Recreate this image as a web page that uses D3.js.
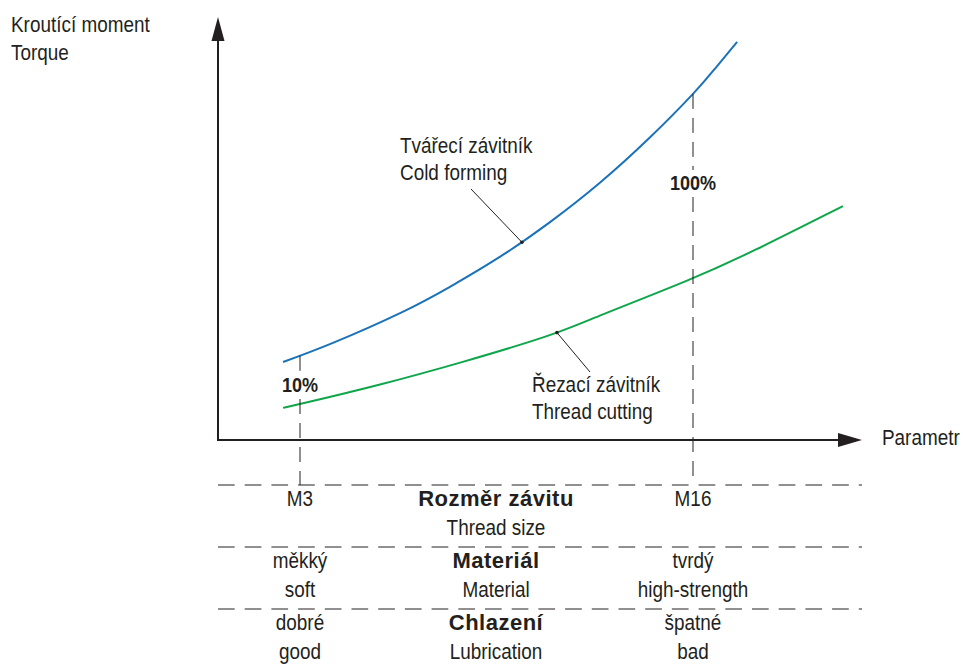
<!DOCTYPE html>
<html>
<head>
<meta charset="utf-8">
<script src="https://cdn.jsdelivr.net/npm/d3@7"></script>
<style>
  body { margin: 0; background: #fff; }
  text { font-family: "Liberation Sans", Arial, sans-serif; fill: #231f20; }
</style>
</head>
<body>
<div id="graph"></div>
<script>
// thread size (mm) vs torque (% of cold forming at M16)
const coldX = [2.44, 4.09, 6.31, 7.96, 9.62, 11.27, 12.92, 14.58, 16.0, 16.73, 17.46];
const coldY = [22.8, 28.4, 37.1, 44.8, 53.6, 63.7, 75.2, 88.5, 101.2, 108.6, 116.4];
const cutX = [2.44, 3.0, 5.65, 8.29, 11.5, 12.69, 16.0, 17.89, 20.96];
const cutY = [9.4, 10.5, 16.1, 22.5, 31.0, 35.7, 47.1, 54.7, 68.4];

const markX = [3, 16];
const markPct = ["10%", "100%"];

const rowTitles = ["Rozměr závitu", "Materiál", "Chlazení"];
const rowTitlesEn = ["Thread size", "Material", "Lubrication"];
const leftLabels = [["M3", ""], ["měkký", "soft"], ["dobré", "good"]];
const rightLabels = [["M16", ""], ["tvrdý", "high-strength"], ["špatné", "bad"]];

let svg = d3.select("#graph").append("svg")
  .attr("width", 963)
  .attr("height", 666);

let xScale = d3.scaleLinear().domain([3, 16]).range([300, 693]);
let yScale = d3.scaleLinear().domain([0, 100]).range([440, 98]);

let x0 = 218, y0 = 440, xEnd = 862, yEnd = 17;
let ink = "#231f20";

// condensed-looking text: regular face squeezed horizontally
function label(x, y, s, size, opts) {
  opts = opts || {};
  let sx = opts.sx || 0.86;
  return svg.append("text")
    .attr("transform", `translate(${x},${y}) scale(${sx},1)`)
    .attr("text-anchor", opts.anchor || "start")
    .attr("font-size", size)
    .attr("font-weight", opts.bold ? "bold" : "normal")
    .attr("letter-spacing", opts.ls || 0)
    .text(s);
}

// axes with arrows
svg.append("line")
  .attr("x1", x0).attr("y1", y0 + 1).attr("x2", x0).attr("y2", yEnd + 20)
  .attr("stroke", ink).attr("stroke-width", 2);
svg.append("path")
  .attr("d", `M${x0},${yEnd} L${x0 - 6.5},${yEnd + 24} L${x0 + 6.5},${yEnd + 24} Z`)
  .attr("fill", ink);
svg.append("line")
  .attr("x1", x0 - 1).attr("y1", y0).attr("x2", xEnd - 20).attr("y2", y0)
  .attr("stroke", ink).attr("stroke-width", 2);
svg.append("path")
  .attr("d", `M${xEnd},${y0} L${xEnd - 24},${y0 - 7} L${xEnd - 24},${y0 + 7} Z`)
  .attr("fill", ink);

label(11, 32, "Kroutící moment", 22);
label(11, 60, "Torque", 22);
label(882, 445, "Parametr", 22);

// horizontal dashed separators
let rowLines = [485, 547, 609];
svg.selectAll(".sep").data(rowLines).enter()
  .append("line")
  .attr("x1", x0).attr("x2", xEnd)
  .attr("y1", d => d).attr("y2", d => d)
  .attr("stroke", ink).attr("stroke-width", 1)
  .attr("stroke-dasharray", "16.7,10");

// curves
let line = d3.line()
  .x(d => xScale(d[0]))
  .y(d => yScale(d[1]))
  .curve(d3.curveNatural);

let cold = coldX.map((v, i) => [v, coldY[i]]);
let cut = cutX.map((v, i) => [v, cutY[i]]);

let coldPath = svg.append("path").datum(cold)
  .attr("d", line).attr("fill", "none")
  .attr("stroke", "#1b72b8").attr("stroke-width", 2);
let cutPath = svg.append("path").datum(cut)
  .attr("d", line.curve(d3.curveBasis)).attr("fill", "none")
  .attr("stroke", "#0fa64b").attr("stroke-width", 2);

// y pixel of a drawn path at a given x pixel
function pathY(path, px) {
  let node = path.node(), len = node.getTotalLength();
  let lo = 0, hi = len;
  for (let k = 0; k < 40; k++) {
    let mid = (lo + hi) / 2;
    if (node.getPointAtLength(mid).x < px) lo = mid; else hi = mid;
  }
  return node.getPointAtLength(lo).y;
}

// vertical dashed markers, broken around the % labels
markX.forEach(function (m, i) {
  let xp = xScale(m);
  let top = pathY(coldPath, xp);
  let labY = i === 0 ? 392 : 190;
  svg.append("line")
    .attr("x1", xp).attr("x2", xp).attr("y1", top).attr("y2", labY - 20)
    .attr("stroke", ink).attr("stroke-width", 1).attr("stroke-dasharray", "15,9");
  svg.append("line")
    .attr("x1", xp).attr("x2", xp).attr("y1", labY + 7).attr("y2", rowLines[0])
    .attr("stroke", ink).attr("stroke-width", 1).attr("stroke-dasharray", "15,9");
  label(xp, labY, markPct[i], 21, { bold: true, anchor: "middle" });
});

// callouts
let callouts = [
  { path: coldPath, at: 10.34, from: [471, 189], tx: 400, ty: 153, t1: "Tvářecí závitník", t2: "Cold forming" },
  { path: cutPath, at: 11.5, from: [590, 372], tx: 532, ty: 392, t1: "Řezací závitník", t2: "Thread cutting" }
];
callouts.forEach(function (c) {
  let px = xScale(c.at), py = pathY(c.path, px);
  svg.append("line")
    .attr("x1", c.from[0]).attr("y1", c.from[1])
    .attr("x2", px).attr("y2", py)
    .attr("stroke", ink).attr("stroke-width", 1);
  svg.append("circle")
    .attr("cx", px).attr("cy", py).attr("r", 1.8)
    .attr("fill", ink);
  label(c.tx, c.ty, c.t1, 22);
  label(c.tx, c.ty + 27, c.t2, 22);
});

// table below the chart
let colMid = 496;
rowTitles.forEach(function (t, i) {
  let base = 506 + i * 62;
  label(colMid, base, t, 22, { bold: true, anchor: "middle", sx: 1, ls: 0.5 });
  label(colMid, base + 29, rowTitlesEn[i], 22, { anchor: "middle" });
  [[leftLabels[i], xScale(markX[0])], [rightLabels[i], xScale(markX[1])]].forEach(function (p) {
    label(p[1], base, p[0][0], 22, { anchor: "middle" });
    label(p[1], base + 29, p[0][1], 22, { anchor: "middle" });
  });
});
</script>
</body>
</html>
